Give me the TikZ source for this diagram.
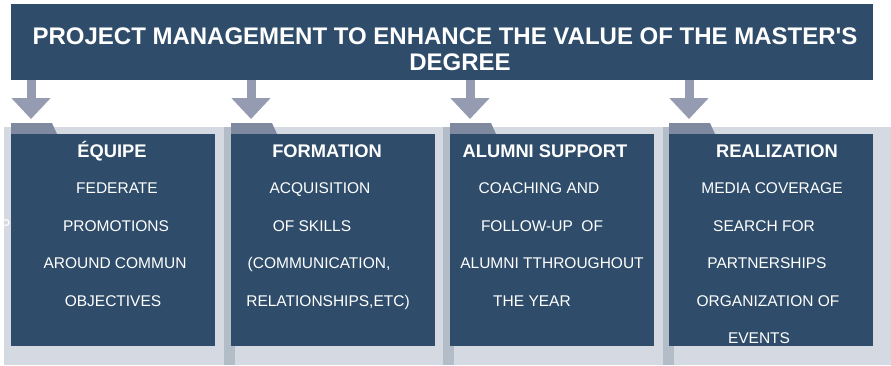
\documentclass[tikz,border=0pt]{standalone}
\usepackage{fontspec}
\setmainfont{Liberation Sans}
\usetikzlibrary{positioning,arrows.meta}
\definecolor{navy}{HTML}{2F4D6A}
\definecolor{panelgray}{HTML}{D5DAE2}
\definecolor{stripgray}{HTML}{B3BDC8}
\definecolor{tabgray}{HTML}{7F8AA1}
\definecolor{arrowgray}{HTML}{959BB0}
\tikzstyle{panel} = [rectangle,fill=navy,draw=none,minimum width=204pt,minimum height=212pt,inner sep=0pt]
\tikzstyle{head} = [text=white,font=\fontsize{18.3}{20}\selectfont\bfseries,text height=13.1pt,text depth=0pt,inner sep=0pt]
\tikzstyle{txt} = [text=white,font=\fontsize{15.5}{17}\selectfont,text height=11.1pt,text depth=0pt,inner sep=0pt]
\tikzstyle{titletxt} = [text=white,font=\fontsize{24}{26}\selectfont\bfseries,text height=17.2pt,text depth=0pt,inner sep=0pt]
\tikzstyle{bigarrow} = [draw=arrowgray,line width=9pt,-{Triangle[width=38pt,length=21pt]}]

\begin{document}
\begin{tikzpicture}[x=1pt,y=-1pt,node distance=37.4pt]
    \useasboundingbox (0,0) rectangle (891,365);

    % background of the columns
    \fill[panelgray] (4,127) rectangle (891,365);
    \foreach \x in {224,443,663} \fill[stripgray] (\x,127) rectangle ++(11,238);
    \foreach \x in {11,231,450,669} \fill[tabgray] (\x,123) -- ++(41,0) -- ++(5,11) -- (\x,134) -- cycle;
    \node[txt,anchor=west] (stray) at (0,224.5) {P};

    \node[panel] (team) at (113,240) {};
    \node[panel] (training) at (333,240) {};
    \node[panel] (alumni) at (552,240) {};
    \node[panel] (realization) at (771,240) {};

    % column texts
    \node[head] (teamhead) at (112,151) {ÉQUIPE};
    \node[txt,below of=teamhead,xshift=5pt] (federate) {FEDERATE};
    \node[txt,below of=federate,xshift=-1pt] (promotions) {PROMOTIONS};
    \node[txt,below of=promotions,xshift=-1pt] (around) {AROUND COMMUN};
    \node[txt,below of=around,xshift=-2pt] (objectives) {OBJECTIVES};

    \node[head] (traininghead) at (327,151) {FORMATION};
    \node[txt,below of=traininghead,xshift=-7pt] (acquisition) {ACQUISITION};
    \node[txt,below of=acquisition,xshift=-8pt] (skills) {OF SKILLS};
    \node[txt,below of=skills,xshift=7pt] (communication) {(COMMUNICATION,};
    \node[txt,below of=communication,xshift=9pt] (relationships) {RELATIONSHIPS,ETC)};

    \node[head] (alumnihead) at (545,151) {ALUMNI SUPPORT};
    \node[txt,below of=alumnihead,xshift=-6pt] (coaching) {COACHING AND};
    \node[txt,below of=coaching,xshift=3pt] (followup) {FOLLOW-UP\ \ OF};
    \node[txt,below of=followup,xshift=10pt] (throughout) {ALUMNI TTHROUGHOUT};
    \node[txt,below of=throughout,xshift=-20pt] (year) {THE YEAR};

    \node[head] (realizationhead) at (777,151) {REALIZATION};
    \node[txt,below of=realizationhead,xshift=-5pt] (media) {MEDIA COVERAGE};
    \node[txt,below of=media,xshift=-8pt] (search) {SEARCH FOR};
    \node[txt,below of=search,xshift=3pt] (partnerships) {PARTNERSHIPS};
    \node[txt,below of=partnerships,xshift=1pt] (organization) {ORGANIZATION OF};
    \node[txt,below of=organization,xshift=-9pt] (events) {EVENTS};

    % title
    \node[rectangle,fill=navy,minimum width=862pt,minimum height=76pt,inner sep=0pt] (title) at (442,42) {};
    \node[titletxt] (titleline) at (445,35.5) {PROJECT MANAGEMENT TO ENHANCE THE VALUE OF THE MASTER\textquotesingle S};
    \node[titletxt,below of=titleline,node distance=26pt,xshift=15pt] (degree) {DEGREE};

    \coordinate (teamtop) at (31,119);
    \coordinate (trainingtop) at (251,119);
    \coordinate (alumnitop) at (470,119);
    \coordinate (realizationtop) at (689,119);

    \draw[bigarrow] (title.south -| teamtop) -- (teamtop);
    \draw[bigarrow] (title.south -| trainingtop) -- (trainingtop);
    \draw[bigarrow] (title.south -| alumnitop) -- (alumnitop);
    \draw[bigarrow] (title.south -| realizationtop) -- (realizationtop);

\end{tikzpicture}
\end{document}
